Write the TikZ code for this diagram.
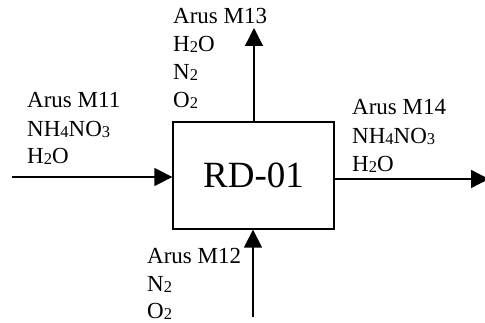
\documentclass[tikz,border=0pt]{standalone}
\usepackage{fontspec}
\setmainfont{Liberation Serif}
\usetikzlibrary{arrows.meta}
\newcommand\sbx[1]{\raisebox{-1pt}{\fontsize{16.5}{16.5}\selectfont #1}}
\begin{document}
\begin{tikzpicture}[x=1pt,y=1pt,
  lbl/.style={anchor=base west,inner sep=0pt,font=\fontsize{23}{26}\selectfont},
  flow/.style={line width=1.3pt,-{Triangle[length=18pt,width=18pt]}}]
\useasboundingbox (0,0) rectangle (485,323);
\node[draw,line width=1.3pt,minimum width=161pt,minimum height=107pt,inner sep=0pt,
  font=\fontsize{37}{40}\selectfont] (rd) at (253.5,147.5) {RD-01};
\coordinate (inL) at (12,146);
\coordinate (outT) at (254,295);
\coordinate (outR) at (489,144);
\coordinate (inB) at (253,6);
\draw[flow] (inL) -- (inL -| rd.west);
\draw[flow] (rd.north -| outT) -- (outT);
\draw[flow] (rd.east |- outR) -- (outR);
\draw[flow] (inB) -- (inB |- rd.south);
% left label
\node[lbl] (l1) at (27,215) {Arus M11};
\node[lbl] (l2) at (27,186) {NH\sbx{4}NO\sbx{3}};
\node[lbl] (l3) at (27,159) {H\sbx{2}O};
% top label
\node[lbl] (t1) at (173,299) {Arus M13};
\node[lbl] (t2) at (173,271) {H\sbx{2}O};
\node[lbl] (t3) at (173,243) {N\sbx{2}};
\node[lbl] (t4) at (173,215) {O\sbx{2}};
% right label
\node[lbl] (r1) at (352,208) {Arus M14};
\node[lbl] (r2) at (352,179) {NH\sbx{4}NO\sbx{3}};
\node[lbl] (r3) at (352,151) {H\sbx{2}O};
% bottom label
\node[lbl] (b1) at (147,59) {Arus M12};
\node[lbl] (b2) at (147,31) {N\sbx{2}};
\node[lbl] (b3) at (147,4) {O\sbx{2}};
\end{tikzpicture}
\end{document}
